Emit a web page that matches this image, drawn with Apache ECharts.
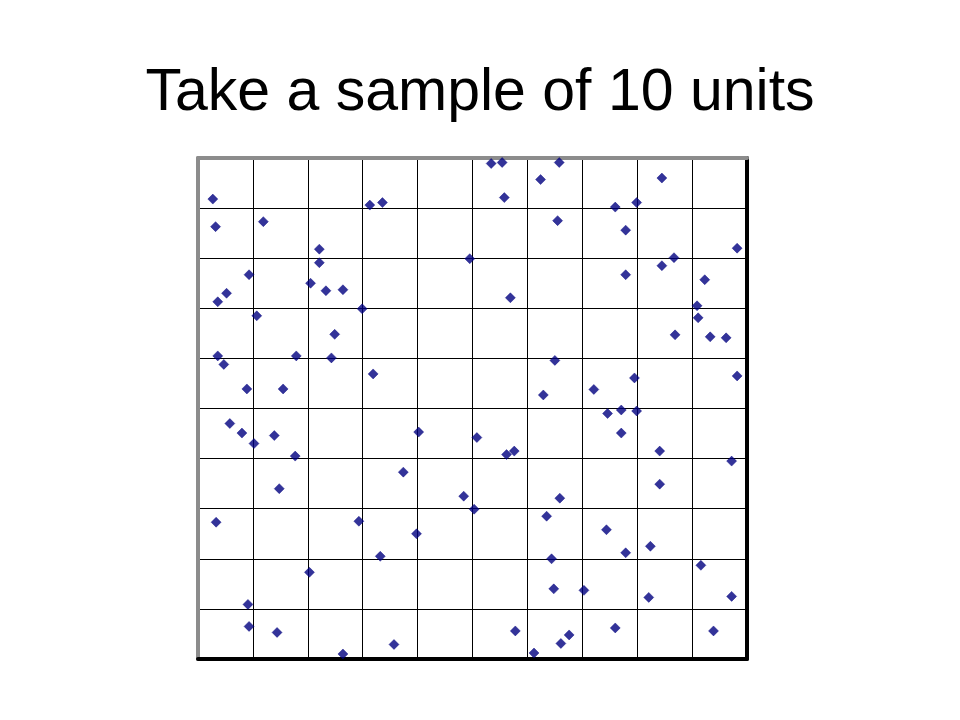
<!DOCTYPE html>
<html>
<head>
    <meta charset="utf-8">
    <title>Take a sample of 10 units</title>
    <style>
        html, body { margin: 0; padding: 0; background: #fff; }
    </style>
</head>
<body>
<div id="main" style="width: 960px;height:720px;"></div>

<script src="https://cdn.jsdelivr.net/npm/echarts@6/dist/echarts.min.js"></script>
<script>
    // population of units (grid is 10 x 10)
    var unitX = [
        0.27, 3.13, 3.36, 0.32, 1.19, 2.21, 2.21, 4.95, 0.93, 0.52,
        0.36, 2.05, 2.33, 2.64, 1.07, 2.99, 2.49, 0.36, 0.47, 1.79,
        2.43, 3.19, 0.89, 1.55, 5.34, 5.54, 6.58, 6.24, 8.45, 5.58,
        7.60, 7.99, 6.55, 7.79, 9.82, 8.67, 8.45, 7.79, 9.23, 5.69,
        9.09, 9.11, 8.69, 9.33, 9.62, 6.50, 7.95, 9.82, 6.29, 7.21,
        0.58, 0.80, 1.02, 1.39, 4.02, 5.08, 1.77, 3.74, 1.48, 4.84,
        5.03, 0.33, 2.93, 3.98, 3.32, 2.03, 0.91, 0.93, 1.44, 3.57,
        2.64, 7.46, 7.71, 7.99, 7.71, 5.62, 5.76, 8.41, 9.72, 8.41,
        6.59, 6.35, 7.44, 7.79, 8.24, 6.44, 9.16, 6.48, 7.03, 8.21,
        9.72, 5.78, 7.60, 9.39, 6.76, 6.61, 6.12
    ];
    var unitY = [
        9.18, 9.06, 9.11, 8.63, 8.73, 8.18, 7.91, 7.99, 7.67, 7.30,
        7.13, 7.50, 7.35, 7.37, 6.85, 6.99, 6.48, 6.05, 5.88, 6.05,
        6.01, 5.69, 5.39, 5.39, 9.89, 9.91, 9.91, 9.57, 9.60, 9.21,
        9.02, 9.11, 8.75, 8.56, 8.20, 8.01, 7.85, 7.67, 7.57, 7.21,
        7.05, 6.81, 6.47, 6.43, 6.41, 5.96, 5.61, 5.65, 5.27, 5.38,
        4.70, 4.51, 4.30, 4.46, 4.53, 4.42, 4.05, 3.73, 3.40, 3.25,
        2.99, 2.73, 2.75, 2.50, 2.05, 1.73, 1.09, 0.65, 0.53, 0.29,
        0.10, 4.90, 4.97, 4.95, 4.51, 4.08, 4.15, 4.15, 3.95, 3.49,
        3.21, 2.85, 2.58, 2.12, 2.25, 2.00, 1.87, 1.40, 1.37, 1.23,
        1.25, 0.56, 0.62, 0.56, 0.48, 0.31, 0.12
    ];

    var points = unitX.map(function (x, i) {
        return [x, unitY[i]];
    });

    // axis used only for the frame: light edge top/left, dark edge bottom/right
    function frameAxis(pos, color, withGrid) {
        return {
            type: 'value',
            position: pos,
            min: 0,
            max: 10,
            interval: 1,
            axisLine: { show: true, onZero: false, lineStyle: { color: color, width: 4 } },
            axisTick: { show: false },
            axisLabel: { show: false },
            splitLine: { show: withGrid, lineStyle: { color: '#000', width: 1, type: 'solid' } }
        };
    }

    var myChart = echarts.init(document.getElementById('main'));

    myChart.setOption({
        animation: false,
        backgroundColor: '#fff',
        title: {
            text: 'Take a sample of 10 units',
            left: 'center',
            top: 59,
            textStyle: {
                fontFamily: 'Liberation Sans, Arial, sans-serif',
                fontSize: 59,
                fontWeight: 'normal',
                color: '#000'
            }
        },
        grid: {
            left: 198,
            top: 158,
            width: 549,
            height: 501,
            show: false
        },
        xAxis: [
            frameAxis('bottom', '#000', true),
            frameAxis('top', '#8c8c8c', false)
        ],
        yAxis: [
            frameAxis('left', '#8c8c8c', true),
            frameAxis('right', '#000', false)
        ],
        series: [
            {
                type: 'scatter',
                xAxisIndex: 0,
                yAxisIndex: 0,
                symbol: 'diamond',
                symbolSize: 10,
                itemStyle: { color: '#000080', borderColor: '#000080', borderWidth: 0.5 },
                data: points
            }
        ]
    });
</script>
</body>
</html>
